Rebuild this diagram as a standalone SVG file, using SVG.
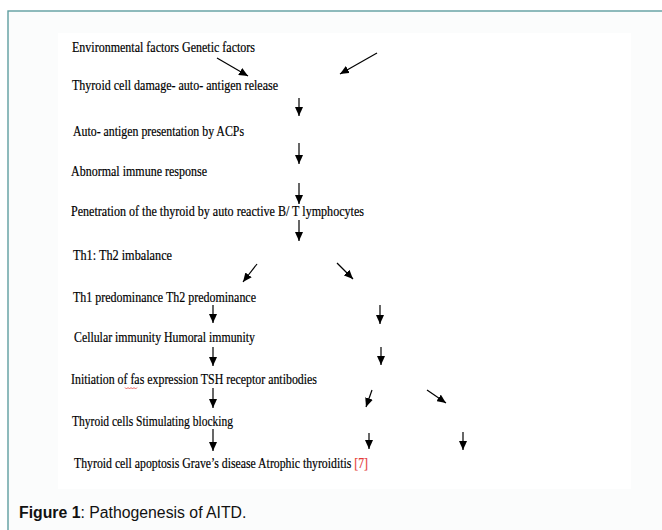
<svg xmlns="http://www.w3.org/2000/svg" width="662" height="530" viewBox="0 0 662 530">
  <style>
    .t { font-family: "Liberation Serif", "Times New Roman", serif; font-size: 15px; fill: #000; stroke: #000; stroke-width: 0.2; }
    .ref { fill: #e53935; stroke: #e53935; }
    .cap { font-family: "Liberation Sans", Arial, sans-serif; font-size: 15.8px; fill: #111; }
    .c line { stroke: #000; stroke-width: 1.2; marker-end: url(#ah); }
  </style>
  <defs>
    <marker id="ah" markerUnits="userSpaceOnUse" markerWidth="10" markerHeight="8" refX="9" refY="4" orient="auto">
      <path d="M0,0 L9,4 L0,8 Z" fill="#000"/>
    </marker>
  </defs>

  <rect x="0" y="0" width="662" height="530" fill="#ffffff"/>
  <rect x="8" y="11" width="670" height="540" fill="#fbfcfc" stroke="#5f9ea0" stroke-width="1.4"/>
  <rect x="58" y="33" width="573" height="456" fill="#ffffff"/>

  <g id="n1"><text class="t" x="72" y="51.5" textLength="183" lengthAdjust="spacingAndGlyphs">Environmental factors Genetic factors</text></g>
  <g id="n2"><text class="t" x="72" y="89.5" textLength="206" lengthAdjust="spacingAndGlyphs">Thyroid cell damage- auto- antigen release</text></g>
  <g id="n3"><text class="t" x="73" y="136" textLength="171" lengthAdjust="spacingAndGlyphs">Auto- antigen presentation by ACPs</text></g>
  <g id="n4"><text class="t" x="71" y="175.5" textLength="136" lengthAdjust="spacingAndGlyphs">Abnormal immune response</text></g>
  <g id="n5"><text class="t" x="71" y="215.5" textLength="293" lengthAdjust="spacingAndGlyphs">Penetration of the thyroid by auto reactive B/ T lymphocytes</text></g>
  <g id="n6"><text class="t" x="73" y="259.5" textLength="99" lengthAdjust="spacingAndGlyphs">Th1: Th2 imbalance</text></g>
  <g id="n7"><text class="t" x="73" y="301.5" textLength="183" lengthAdjust="spacingAndGlyphs">Th1 predominance Th2 predominance</text></g>
  <g id="n8"><text class="t" x="74" y="341.5" textLength="181" lengthAdjust="spacingAndGlyphs">Cellular immunity Humoral immunity</text></g>
  <g id="n9">
    <text class="t" x="71" y="384" textLength="246" lengthAdjust="spacingAndGlyphs">Initiation of fas expression TSH receptor antibodies</text>
    <path d="M125,387.5 l1.5,1.5 l1.5,-1.5 l1.5,1.5 l1.5,-1.5 l1.5,1.5 l1.5,-1.5 l1.5,1.5 l1.5,-1.5" fill="none" stroke="#e53935" stroke-width="0.8"/>
  </g>
  <g id="n10"><text class="t" x="72" y="426" textLength="161" lengthAdjust="spacingAndGlyphs">Thyroid cells Stimulating blocking</text></g>
  <g id="n11">
    <text class="t" transform="translate(74,467.5) scale(0.75,1)" x="0" y="0" textLength="392" lengthAdjust="spacingAndGlyphs">Thyroid cell apoptosis Grave’s disease Atrophic thyroiditis <tspan class="ref">[7]</tspan></text>
  </g>

  <g id="connectors" class="c">
    <line x1="217" y1="58" x2="248" y2="76"/>
    <line x1="377" y1="53" x2="340" y2="74"/>
    <line x1="299" y1="98" x2="299" y2="116"/>
    <line x1="299" y1="143" x2="299" y2="164"/>
    <line x1="299" y1="183" x2="299" y2="204"/>
    <line x1="299" y1="220" x2="299" y2="241"/>
    <line x1="257" y1="264" x2="243" y2="282"/>
    <line x1="337" y1="263" x2="353" y2="279"/>
    <line x1="213" y1="305" x2="213" y2="323"/>
    <line x1="380" y1="305" x2="380" y2="324"/>
    <line x1="213" y1="347" x2="213" y2="366"/>
    <line x1="381" y1="347" x2="381" y2="365"/>
    <line x1="213" y1="388" x2="213" y2="408"/>
    <line x1="372" y1="390" x2="366" y2="407"/>
    <line x1="427" y1="390" x2="446" y2="403"/>
    <line x1="213" y1="429" x2="213" y2="451"/>
    <line x1="369" y1="433" x2="369" y2="449"/>
    <line x1="463" y1="432" x2="463" y2="450"/>
  </g>

  <g id="caption">
    <text class="cap" x="19" y="518"><tspan font-weight="bold">Figure 1</tspan>: Pathogenesis of AITD.</text>
  </g>
</svg>
